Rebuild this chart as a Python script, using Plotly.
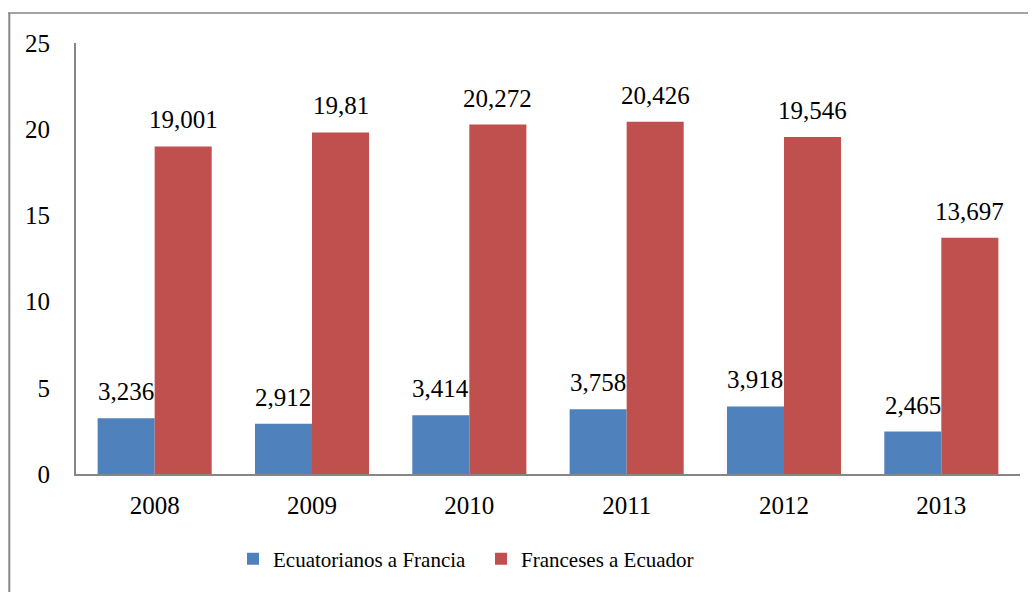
import plotly.graph_objects as go

years = ["2008", "2009", "2010", "2011", "2012", "2013"]
ecuatorianos = [3.236, 2.912, 3.414, 3.758, 3.918, 2.465]
franceses = [19.001, 19.81, 20.272, 20.426, 19.546, 13.697]
series_names = ["Ecuatorianos a Francia", "Franceses a Ecuador"]
colors = ["#4F81BD", "#C0504D"]

# figure is offset by the page body margin (8px), so size it to fit the window
W, H = 1028, 584
ML, MR, MT, MB = 68, 16, 35, 118
PW, PH = W - ML - MR, H - MT - MB
BARGAP = 0.275

def px_x(p):
    return (p - ML) / PW

def px_y(p):
    return (H - MB - p) / PH

def fmt(v):
    s = f"{v:.3f}".rstrip("0").rstrip(".")
    return s.replace(".", ",")

FONT = "Liberation Serif, Times New Roman, serif"

fig = go.Figure()
for name, vals, col in zip(series_names, [ecuatorianos, franceses], colors):
    fig.add_trace(go.Bar(
        x=years, y=vals, name=name,
        marker=dict(color=col, line=dict(width=0)),
    ))

# data labels above each bar, centred on the bar
cat_w = PW / len(years)
bar_w = cat_w * (1 - BARGAP) / 2
annotations = []
for i, vals in enumerate([ecuatorianos, franceses]):
    shift = (i - 0.5) * bar_w
    for j, v in enumerate(vals):
        annotations.append(dict(
            x=j, y=v, xref="x", yref="y", text=fmt(v), showarrow=False,
            xanchor="center", yanchor="bottom", xshift=shift, yshift=11,
            font=dict(family=FONT, size=25, color="#000000"),
        ))

fig.update_layout(
    width=W, height=H,
    margin=dict(l=ML, r=MR, t=MT, b=MB),
    paper_bgcolor="white", plot_bgcolor="white",
    barmode="group", bargap=BARGAP, bargroupgap=0,
    font=dict(family=FONT, size=25, color="#000000"),
    showlegend=True,
    legend=dict(
        orientation="h", x=px_x(225), xanchor="left",
        y=px_y(551), yanchor="middle",
        font=dict(family=FONT, size=21, color="#000000"),
        itemwidth=30, traceorder="normal", entrywidth=203,
    ),
    xaxis=dict(
        type="category", range=[-0.5, len(years) - 0.5],
        showline=True, linecolor="#868686", linewidth=2,
        ticks="", showgrid=False, ticklabelstandoff=8,
        tickfont=dict(family=FONT, size=25),
    ),
    yaxis=dict(
        range=[0, 25], dtick=5, showline=True, linecolor="#868686", linewidth=2,
        ticks="", showgrid=False, zeroline=False, ticklabelstandoff=19,
        tickfont=dict(family=FONT, size=25),
    ),
    annotations=annotations,
    shapes=[
        dict(type="line", xref="paper", yref="paper",
             x0=px_x(0), x1=px_x(W + 5), y0=px_y(5), y1=px_y(5),
             line=dict(color="#868686", width=1.5)),
        dict(type="line", xref="paper", yref="paper",
             x0=px_x(1.3), x1=px_x(1.3), y0=px_y(5), y1=px_y(H + 5),
             line=dict(color="#868686", width=2)),
    ],
)

fig.write_html("out.html")
